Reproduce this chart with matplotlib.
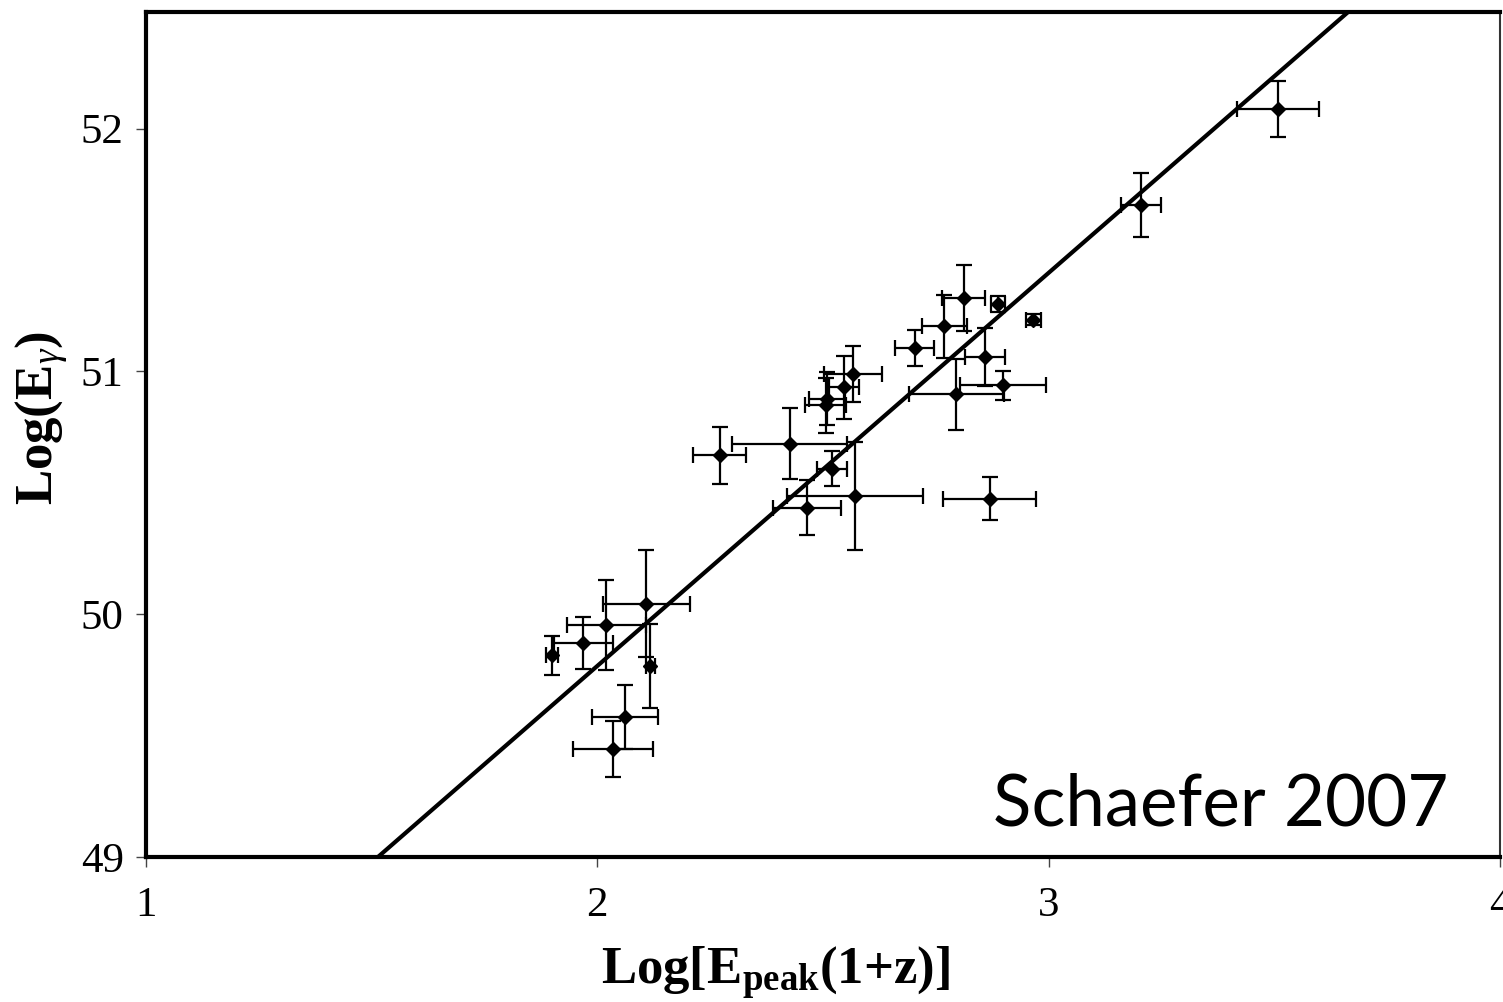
import matplotlib
matplotlib.use("Agg")
import matplotlib.pyplot as plt
import numpy as np

# log[Epeak(1+z)], log(E_gamma) and their 1-sigma errors
log_ep = [1.900, 1.969, 2.020, 2.109, 2.117, 2.062, 2.035, 2.271, 2.426, 2.520,
          2.465, 2.571, 2.566, 2.546, 2.509, 2.506, 2.703, 2.812, 2.769, 2.888,
          2.966, 2.859, 2.899, 2.795, 2.869, 3.204, 3.509]
log_eg = [49.831, 49.882, 49.955, 50.044, 49.786, 49.577, 49.446, 50.654, 50.702, 50.600,
          50.438, 50.486, 50.988, 50.935, 50.888, 50.860, 51.096, 51.303, 51.185, 51.279,
          51.213, 51.059, 50.942, 50.905, 50.476, 51.686, 52.081]
err_ep = [0.013, 0.066, 0.088, 0.097, 0.010, 0.073, 0.089, 0.059, 0.127, 0.034,
          0.076, 0.150, 0.064, 0.033, 0.040, 0.046, 0.043, 0.048, 0.050, 0.016,
          0.017, 0.045, 0.095, 0.105, 0.103, 0.044, 0.091]
err_eg = [0.080, 0.108, 0.185, 0.220, 0.173, 0.133, 0.116, 0.117, 0.147, 0.073,
          0.113, 0.223, 0.115, 0.130, 0.110, 0.113, 0.075, 0.135, 0.130, 0.033,
          0.022, 0.120, 0.060, 0.146, 0.089, 0.132, 0.115]

# best fit: log(Eg) = 49 + slope * (log_ep - x0)
fit_slope = 1.619
fit_x0 = 1.514

plt.rcParams["font.family"] = "Liberation Serif"
plt.rcParams["mathtext.fontset"] = "custom"
plt.rcParams["mathtext.rm"] = "Liberation Serif"
plt.rcParams["mathtext.it"] = "Liberation Serif:italic"
plt.rcParams["mathtext.bf"] = "Liberation Serif:bold"

fig = plt.figure(figsize=(15.03, 10.02), dpi=100)
ax = fig.add_axes([0.0971, 0.1447, 0.9009, 0.8433])

xs = np.array([1.0, 4.0])
ax.plot(xs, 49 + fit_slope * (xs - fit_x0), color="black", lw=3.0, zorder=3)

ax.errorbar(log_ep, log_eg, xerr=err_ep, yerr=err_eg, fmt="D", color="black",
            ms=7, ecolor="black", elinewidth=1.6, capsize=6, capthick=1.6, zorder=4)

ax.set_xlim(1, 4)
ax.set_ylim(49, 52.48)
ax.set_xticks([1, 2, 3, 4])
ax.set_yticks([49, 50, 51, 52])
ax.tick_params(direction="out", length=7, width=1, labelsize=31, color="#444444")
ax.tick_params(axis="x", pad=14)
ax.tick_params(axis="y", pad=9)

for side in ["left", "top", "bottom"]:
    ax.spines[side].set_linewidth(3)
ax.spines["right"].set_linewidth(1.5)
ax.spines["right"].set_color("#333333")

ax.set_xlabel(r"$\mathbf{Log[E_{peak}(1{+}z)]}$", fontsize=38)
ax.xaxis.set_label_coords(0.465, -0.104)
ax.set_ylabel(r"$\mathbf{Log(E}_{\gamma}\mathbf{)}$", fontsize=38)
ax.yaxis.set_label_coords(-0.056, 0.52)

ax.text(0.9616, 0.0367, "Schaefer 2007", transform=ax.transAxes, ha="right", va="baseline",
        fontsize=51, family="Lato")

fig.savefig("out.png", dpi=100)
